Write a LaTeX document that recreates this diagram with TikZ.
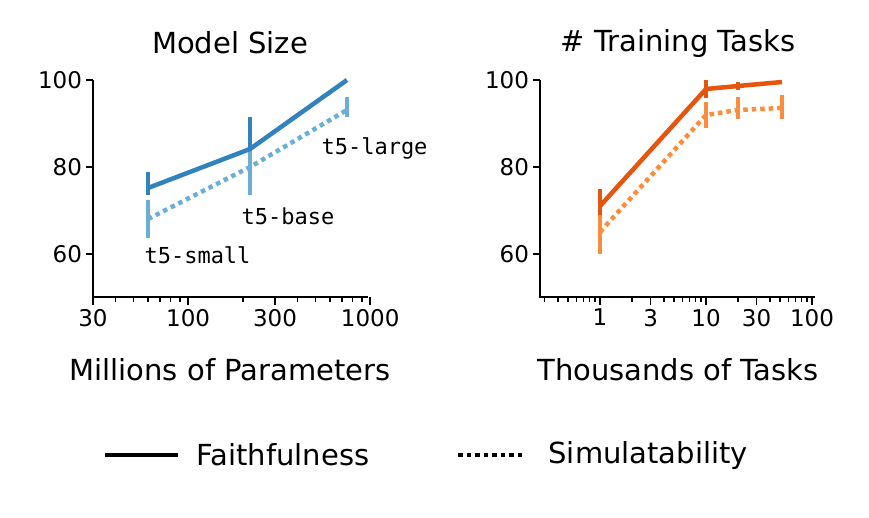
\documentclass[tikz,border=0pt]{standalone}
\usepackage{fontspec}
\setmainfont{DejaVu Sans}
\setmonofont{DejaVu Sans Mono}
\definecolor{bluedark}{HTML}{3182BD}
\definecolor{bluelight}{HTML}{6BAED6}
\definecolor{orangedark}{HTML}{E6550D}
\definecolor{orangelight}{HTML}{FD8D3C}
\tikzset{
  faith/.style={line width=4.5pt},
  simul/.style={line width=4.5pt,dash pattern=on 4.5pt off 4pt},
  errbar/.style={line width=4pt},
  axisline/.style={line width=2pt},
  tickmark/.style={line width=1.5pt},
  ticklabel/.style={font=\fontsize{23}{27}\selectfont},
  biglabel/.style={font=\fontsize{29}{34}\selectfont},
  monolabel/.style={font=\ttfamily\fontsize{22}{26}\selectfont,anchor=west}
}
\begin{document}
\begin{tikzpicture}[x=1pt,y=-1pt]
\useasboundingbox (0,0) rectangle (869,517);
% ---- left panel: model size
\node[biglabel] (titleL) at (230,43) {Model Size};
\draw[axisline] (93,80) -- (93,297) -- (368,297);
\foreach \v/\p in {60/254,80/167,100/80}
  \draw[tickmark] (93,\p) -- (86,\p) node[ticklabel,anchor=east] {\v};
\foreach \v in {30,100,300,1000}
  \draw[tickmark] ({93+182*log10(\v/30)},297) -- ++(0,8)
    node[ticklabel,anchor=north] {\v};
\foreach \v in {40,50,60,70,80,90,200,400,500,600,700,800,900}
  \draw[tickmark] ({93+182*log10(\v/30)},297) -- ++(0,5);
\node[biglabel] (xlabL) at (230,370) {Millions of Parameters};
\coordinate (fs) at (148,188); \coordinate (fb) at (250,149); \coordinate (fl) at (347,80);
\coordinate (ss) at (148,219); \coordinate (sb) at (250,167); \coordinate (sl) at (347,110);
\draw[errbar,bluelight] (148,200) -- (148,238);
\draw[errbar,bluelight] (250,150) -- (250,195);
\draw[errbar,bluelight] (347,97) -- (347,117);
\draw[errbar,bluedark] (148,172) -- (148,195);
\draw[errbar,bluedark] (250,117) -- (250,150);
\draw[simul,bluelight] (ss) -- (sb) -- (sl);
\draw[faith,bluedark] (fs) -- (fb) -- (fl);
\node[monolabel] (small) at (141,255) {t5-small};
\node[monolabel] (base) at (238,216) {t5-base};
\node[monolabel] (large) at (318,148) {t5-large};
% ---- right panel: training tasks
\node[biglabel] (titleR) at (678,43) {\# Training Tasks};
\draw[axisline] (540,80) -- (540,297) -- (815,297);
\foreach \v/\p in {60/254,80/167,100/80}
  \draw[tickmark] (540,\p) -- (533,\p) node[ticklabel,anchor=east] {\v};
\foreach \v in {1,3,10,30,100}
  \draw[tickmark] ({600+106*log10(\v)},297) -- ++(0,8)
    node[ticklabel,anchor=north] {\v};
\foreach \v in {0.3,0.4,0.5,0.6,0.7,0.8,0.9,2,4,5,6,7,8,9,20,40,50,60,70,80,90}
  \draw[tickmark] ({600+106*log10(\v)},297) -- ++(0,5);
\node[biglabel] (xlabR) at (678,370) {Thousands of Tasks};
\coordinate (f1) at (600,206); \coordinate (f10) at (706,89);
\coordinate (f20) at (738,86); \coordinate (f50) at (782,82);
\coordinate (s1) at (600,232); \coordinate (s10) at (706,115);
\coordinate (s20) at (738,110); \coordinate (s50) at (782,108);
\draw[errbar,orangelight] (600,210) -- (600,254);
\draw[errbar,orangelight] (706,102) -- (706,128);
\draw[errbar,orangelight] (738,97) -- (738,119);
\draw[errbar,orangelight] (782,95) -- (782,119);
\draw[errbar,orangedark] (600,189) -- (600,215);
\draw[errbar,orangedark] (706,80) -- (706,98);
\draw[errbar,orangedark] (738,82) -- (738,90);
\draw[simul,orangelight] (s1) -- (s10) -- (s20) -- (s50);
\draw[faith,orangedark] (f1) -- (f10) -- (f20) -- (f50);
% ---- legend
\coordinate (lf1) at (105,455); \coordinate (lf2) at (178,455);
\coordinate (ls1) at (458,455); \coordinate (ls2) at (523,455);
\draw[faith] (lf1) -- (lf2);
\draw[simul] (ls1) -- (ls2);
\node[biglabel,anchor=west] (legF) at (193,455) {Faithfulness};
\node[biglabel,anchor=west] (legS) at (545,455) {Simulatability};
\end{tikzpicture}
\end{document}
